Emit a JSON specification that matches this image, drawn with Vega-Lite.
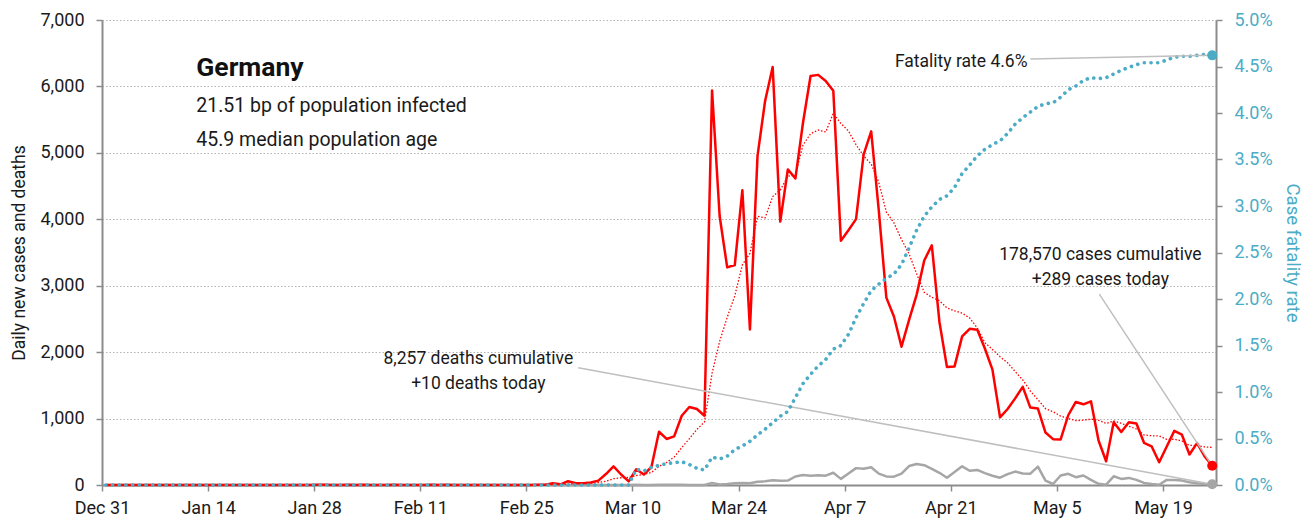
{
  "$schema": "https://vega.github.io/schema/vega-lite/v6.json",
  "width": 1114,
  "height": 465,
  "autosize": {"type": "none"},
  "padding": {"left": 102, "top": 20, "right": 99, "bottom": 40},
  "background": "white",
  "config": {
    "font": "Roboto",
    "view": {"stroke": null},
    "axis": {"labelFont": "Roboto", "titleFont": "Roboto"},
    "text": {"font": "Roboto"}
  },
  "datasets": {
    "daily": [
      {"date":"2019-12-31","cases":0,"ma7":0,"deaths":0,"cfr":0},
      {"date":"2020-01-01","cases":0,"ma7":0,"deaths":0,"cfr":0},
      {"date":"2020-01-02","cases":0,"ma7":0,"deaths":0,"cfr":0},
      {"date":"2020-01-03","cases":0,"ma7":0,"deaths":0,"cfr":0},
      {"date":"2020-01-04","cases":0,"ma7":0,"deaths":0,"cfr":0},
      {"date":"2020-01-05","cases":0,"ma7":0,"deaths":0,"cfr":0},
      {"date":"2020-01-06","cases":0,"ma7":0,"deaths":0,"cfr":0},
      {"date":"2020-01-07","cases":0,"ma7":0,"deaths":0,"cfr":0},
      {"date":"2020-01-08","cases":0,"ma7":0,"deaths":0,"cfr":0},
      {"date":"2020-01-09","cases":0,"ma7":0,"deaths":0,"cfr":0},
      {"date":"2020-01-10","cases":0,"ma7":0,"deaths":0,"cfr":0},
      {"date":"2020-01-11","cases":0,"ma7":0,"deaths":0,"cfr":0},
      {"date":"2020-01-12","cases":0,"ma7":0,"deaths":0,"cfr":0},
      {"date":"2020-01-13","cases":0,"ma7":0,"deaths":0,"cfr":0},
      {"date":"2020-01-14","cases":0,"ma7":0,"deaths":0,"cfr":0},
      {"date":"2020-01-15","cases":0,"ma7":0,"deaths":0,"cfr":0},
      {"date":"2020-01-16","cases":0,"ma7":0,"deaths":0,"cfr":0},
      {"date":"2020-01-17","cases":0,"ma7":0,"deaths":0,"cfr":0},
      {"date":"2020-01-18","cases":0,"ma7":0,"deaths":0,"cfr":0},
      {"date":"2020-01-19","cases":0,"ma7":0,"deaths":0,"cfr":0},
      {"date":"2020-01-20","cases":0,"ma7":0,"deaths":0,"cfr":0},
      {"date":"2020-01-21","cases":0,"ma7":0,"deaths":0,"cfr":0},
      {"date":"2020-01-22","cases":0,"ma7":0,"deaths":0,"cfr":0},
      {"date":"2020-01-23","cases":0,"ma7":0,"deaths":0,"cfr":0},
      {"date":"2020-01-24","cases":0,"ma7":0,"deaths":0,"cfr":0},
      {"date":"2020-01-25","cases":0,"ma7":0,"deaths":0,"cfr":0},
      {"date":"2020-01-26","cases":0,"ma7":0,"deaths":0,"cfr":0},
      {"date":"2020-01-27","cases":0,"ma7":0,"deaths":0,"cfr":0},
      {"date":"2020-01-28","cases":2,"ma7":0.3,"deaths":0,"cfr":0},
      {"date":"2020-01-29","cases":2,"ma7":0.6,"deaths":0,"cfr":0},
      {"date":"2020-01-30","cases":0,"ma7":0.6,"deaths":0,"cfr":0},
      {"date":"2020-01-31","cases":1,"ma7":0.7,"deaths":0,"cfr":0},
      {"date":"2020-02-01","cases":2,"ma7":1.0,"deaths":0,"cfr":0},
      {"date":"2020-02-02","cases":0,"ma7":1.0,"deaths":0,"cfr":0},
      {"date":"2020-02-03","cases":2,"ma7":1.3,"deaths":0,"cfr":0},
      {"date":"2020-02-04","cases":1,"ma7":1.1,"deaths":0,"cfr":0},
      {"date":"2020-02-05","cases":0,"ma7":0.9,"deaths":0,"cfr":0},
      {"date":"2020-02-06","cases":0,"ma7":0.9,"deaths":0,"cfr":0},
      {"date":"2020-02-07","cases":2,"ma7":1.0,"deaths":0,"cfr":0},
      {"date":"2020-02-08","cases":0,"ma7":0.7,"deaths":0,"cfr":0},
      {"date":"2020-02-09","cases":0,"ma7":0.7,"deaths":0,"cfr":0},
      {"date":"2020-02-10","cases":0,"ma7":0.4,"deaths":0,"cfr":0},
      {"date":"2020-02-11","cases":0,"ma7":0.3,"deaths":0,"cfr":0},
      {"date":"2020-02-12","cases":2,"ma7":0.6,"deaths":0,"cfr":0},
      {"date":"2020-02-13","cases":0,"ma7":0.6,"deaths":0,"cfr":0},
      {"date":"2020-02-14","cases":2,"ma7":0.6,"deaths":0,"cfr":0},
      {"date":"2020-02-15","cases":0,"ma7":0.6,"deaths":0,"cfr":0},
      {"date":"2020-02-16","cases":0,"ma7":0.6,"deaths":0,"cfr":0},
      {"date":"2020-02-17","cases":0,"ma7":0.6,"deaths":0,"cfr":0},
      {"date":"2020-02-18","cases":0,"ma7":0.6,"deaths":0,"cfr":0},
      {"date":"2020-02-19","cases":0,"ma7":0.3,"deaths":0,"cfr":0},
      {"date":"2020-02-20","cases":0,"ma7":0.3,"deaths":0,"cfr":0},
      {"date":"2020-02-21","cases":0,"ma7":0,"deaths":0,"cfr":0},
      {"date":"2020-02-22","cases":0,"ma7":0,"deaths":0,"cfr":0},
      {"date":"2020-02-23","cases":0,"ma7":0,"deaths":0,"cfr":0},
      {"date":"2020-02-24","cases":0,"ma7":0,"deaths":0,"cfr":0},
      {"date":"2020-02-25","cases":0,"ma7":0,"deaths":0,"cfr":0},
      {"date":"2020-02-26","cases":2,"ma7":0.3,"deaths":0,"cfr":0},
      {"date":"2020-02-27","cases":5,"ma7":1.0,"deaths":0,"cfr":0},
      {"date":"2020-02-28","cases":27,"ma7":4.9,"deaths":0,"cfr":0},
      {"date":"2020-02-29","cases":10,"ma7":6.3,"deaths":0,"cfr":0},
      {"date":"2020-03-01","cases":57,"ma7":14.4,"deaths":0,"cfr":0},
      {"date":"2020-03-02","cases":28,"ma7":18.4,"deaths":0,"cfr":0},
      {"date":"2020-03-03","cases":28,"ma7":22.4,"deaths":0,"cfr":0},
      {"date":"2020-03-04","cases":39,"ma7":27.7,"deaths":0,"cfr":0},
      {"date":"2020-03-05","cases":66,"ma7":36.4,"deaths":0,"cfr":0},
      {"date":"2020-03-06","cases":165,"ma7":56.1,"deaths":0,"cfr":0},
      {"date":"2020-03-07","cases":280,"ma7":94.7,"deaths":0,"cfr":0},
      {"date":"2020-03-08","cases":158,"ma7":109.1,"deaths":0,"cfr":0},
      {"date":"2020-03-09","cases":55,"ma7":113,"deaths":0,"cfr":0},
      {"date":"2020-03-10","cases":237,"ma7":142.9,"deaths":2,"cfr":0.0017},
      {"date":"2020-03-11","cases":157,"ma7":159.7,"deaths":0,"cfr":0.0015},
      {"date":"2020-03-12","cases":271,"ma7":189,"deaths":1,"cfr":0.0019},
      {"date":"2020-03-13","cases":802,"ma7":280,"deaths":2,"cfr":0.0021},
      {"date":"2020-03-14","cases":693,"ma7":339,"deaths":2,"cfr":0.0023},
      {"date":"2020-03-15","cases":733,"ma7":421.1,"deaths":2,"cfr":0.0024},
      {"date":"2020-03-16","cases":1043,"ma7":562.3,"deaths":3,"cfr":0.0025},
      {"date":"2020-03-17","cases":1174,"ma7":696.1,"deaths":1,"cfr":0.0022},
      {"date":"2020-03-18","cases":1144,"ma7":837.1,"deaths":0,"cfr":0.0018},
      {"date":"2020-03-19","cases":1042,"ma7":947.3,"deaths":0,"cfr":0.0016},
      {"date":"2020-03-20","cases":5940,"ma7":1681.3,"deaths":29,"cfr":0.0030},
      {"date":"2020-03-21","cases":4049,"ma7":2160.7,"deaths":9,"cfr":0.0028},
      {"date":"2020-03-22","cases":3276,"ma7":2524,"deaths":16,"cfr":0.0031},
      {"date":"2020-03-23","cases":3311,"ma7":2848,"deaths":27,"cfr":0.0038},
      {"date":"2020-03-24","cases":4438,"ma7":3314.3,"deaths":29,"cfr":0.0042},
      {"date":"2020-03-25","cases":2342,"ma7":3485.4,"deaths":26,"cfr":0.0047},
      {"date":"2020-03-26","cases":4954,"ma7":4044.3,"deaths":49,"cfr":0.0054},
      {"date":"2020-03-27","cases":5780,"ma7":4021.4,"deaths":55,"cfr":0.0060},
      {"date":"2020-03-28","cases":6294,"ma7":4342.1,"deaths":72,"cfr":0.0067},
      {"date":"2020-03-29","cases":3965,"ma7":4440.6,"deaths":64,"cfr":0.0074},
      {"date":"2020-03-30","cases":4751,"ma7":4646.3,"deaths":66,"cfr":0.0079},
      {"date":"2020-03-31","cases":4615,"ma7":4671.6,"deaths":128,"cfr":0.0094},
      {"date":"2020-04-01","cases":5453,"ma7":5116,"deaths":149,"cfr":0.0109},
      {"date":"2020-04-02","cases":6156,"ma7":5287.7,"deaths":140,"cfr":0.0119},
      {"date":"2020-04-03","cases":6174,"ma7":5344,"deaths":145,"cfr":0.0128},
      {"date":"2020-04-04","cases":6082,"ma7":5313.7,"deaths":141,"cfr":0.0135},
      {"date":"2020-04-05","cases":5936,"ma7":5595.3,"deaths":184,"cfr":0.0146},
      {"date":"2020-04-06","cases":3677,"ma7":5441.9,"deaths":92,"cfr":0.0150},
      {"date":"2020-04-07","cases":3834,"ma7":5330.3,"deaths":173,"cfr":0.0162},
      {"date":"2020-04-08","cases":4003,"ma7":5123.1,"deaths":254,"cfr":0.0180},
      {"date":"2020-04-09","cases":4974,"ma7":4954.3,"deaths":246,"cfr":0.0195},
      {"date":"2020-04-10","cases":5323,"ma7":4832.7,"deaths":266,"cfr":0.0209},
      {"date":"2020-04-11","cases":4133,"ma7":4554.3,"deaths":171,"cfr":0.0216},
      {"date":"2020-04-12","cases":2821,"ma7":4109.3,"deaths":129,"cfr":0.0222},
      {"date":"2020-04-13","cases":2537,"ma7":3946.4,"deaths":126,"cfr":0.0227},
      {"date":"2020-04-14","cases":2082,"ma7":3696.1,"deaths":170,"cfr":0.0237},
      {"date":"2020-04-15","cases":2486,"ma7":3479.4,"deaths":285,"cfr":0.0255},
      {"date":"2020-04-16","cases":2866,"ma7":3178.3,"deaths":315,"cfr":0.0274},
      {"date":"2020-04-17","cases":3380,"ma7":2900.7,"deaths":299,"cfr":0.0289},
      {"date":"2020-04-18","cases":3609,"ma7":2825.9,"deaths":242,"cfr":0.0299},
      {"date":"2020-04-19","cases":2458,"ma7":2774,"deaths":184,"cfr":0.0307},
      {"date":"2020-04-20","cases":1775,"ma7":2665.1,"deaths":110,"cfr":0.0311},
      {"date":"2020-04-21","cases":1785,"ma7":2622.7,"deaths":194,"cfr":0.0320},
      {"date":"2020-04-22","cases":2237,"ma7":2587.1,"deaths":281,"cfr":0.0335},
      {"date":"2020-04-23","cases":2352,"ma7":2513.7,"deaths":215,"cfr":0.0344},
      {"date":"2020-04-24","cases":2337,"ma7":2364.7,"deaths":227,"cfr":0.0354},
      {"date":"2020-04-25","cases":2055,"ma7":2142.7,"deaths":179,"cfr":0.0361},
      {"date":"2020-04-26","cases":1737,"ma7":2039.7,"deaths":140,"cfr":0.0366},
      {"date":"2020-04-27","cases":1018,"ma7":1931.6,"deaths":110,"cfr":0.0370},
      {"date":"2020-04-28","cases":1144,"ma7":1840,"deaths":163,"cfr":0.0378},
      {"date":"2020-04-29","cases":1304,"ma7":1706.7,"deaths":202,"cfr":0.0388},
      {"date":"2020-04-30","cases":1478,"ma7":1581.9,"deaths":173,"cfr":0.0395},
      {"date":"2020-05-01","cases":1165,"ma7":1414.4,"deaths":170,"cfr":0.0401},
      {"date":"2020-05-02","cases":1150,"ma7":1285.1,"deaths":278,"cfr":0.0407},
      {"date":"2020-05-03","cases":790,"ma7":1149.9,"deaths":66,"cfr":0.0410},
      {"date":"2020-05-04","cases":690,"ma7":1103,"deaths":15,"cfr":0.0411},
      {"date":"2020-05-05","cases":685,"ma7":1037.4,"deaths":143,"cfr":0.0417},
      {"date":"2020-05-06","cases":1050,"ma7":1001.1,"deaths":168,"cfr":0.0425},
      {"date":"2020-05-07","cases":1250,"ma7":968.6,"deaths":117,"cfr":0.0429},
      {"date":"2020-05-08","cases":1215,"ma7":975.7,"deaths":143,"cfr":0.0435},
      {"date":"2020-05-09","cases":1260,"ma7":991.4,"deaths":77,"cfr":0.0438},
      {"date":"2020-05-10","cases":670,"ma7":974.3,"deaths":18,"cfr":0.0437},
      {"date":"2020-05-11","cases":357,"ma7":926.7,"deaths":5,"cfr":0.0438},
      {"date":"2020-05-12","cases":945,"ma7":963.9,"deaths":131,"cfr":0.0442},
      {"date":"2020-05-13","cases":798,"ma7":927.9,"deaths":92,"cfr":0.0446},
      {"date":"2020-05-14","cases":945,"ma7":884.3,"deaths":107,"cfr":0.0449},
      {"date":"2020-05-15","cases":925,"ma7":842.9,"deaths":77,"cfr":0.0452},
      {"date":"2020-05-16","cases":635,"ma7":753.6,"deaths":31,"cfr":0.0454},
      {"date":"2020-05-17","cases":583,"ma7":741.1,"deaths":15,"cfr":0.0454},
      {"date":"2020-05-18","cases":342,"ma7":739,"deaths":4,"cfr":0.0454},
      {"date":"2020-05-19","cases":580,"ma7":686.9,"deaths":77,"cfr":0.0457},
      {"date":"2020-05-20","cases":815,"ma7":689.3,"deaths":77,"cfr":0.0460},
      {"date":"2020-05-21","cases":757,"ma7":662.4,"deaths":66,"cfr":0.0461},
      {"date":"2020-05-22","cases":460,"ma7":596,"deaths":41,"cfr":0.0461},
      {"date":"2020-05-23","cases":630,"ma7":595.3,"deaths":26,"cfr":0.0462},
      {"date":"2020-05-24","cases":431,"ma7":573.6,"deaths":15,"cfr":0.0463},
      {"date":"2020-05-25","cases":289,"ma7":566,"deaths":10,"cfr":0.0462}
    ],
    "last": [{"date":"2020-05-25","cases":289,"deaths":10,"cfr":0.0462}],
    "leftLeaders": [
      {"note":"cases","date":"2020-05-10T14:24:00Z","value":2873},
      {"note":"cases","date":"2020-05-25T12:00:00Z","value":289},
      {"note":"deaths","date":"2020-03-02T20:24:00Z","value":1765},
      {"note":"deaths","date":"2020-05-25T12:00:00Z","value":10}
    ],
    "rightLeaders": [
      {"note":"fatality","date":"2020-05-01T12:00:00Z","value":0.0458},
      {"note":"fatality","date":"2020-05-25T12:00:00Z","value":0.0462}
    ],
    "headline": [{"date":"2020-01-12T10:30:00Z","value":6150,"label":"Germany"}],
    "subtitle": [
      {"date":"2020-01-12T10:30:00Z","value":5622,"label":"21.51 bp of population infected"},
      {"date":"2020-01-12T10:30:00Z","value":5110,"label":"45.9 median population age"}
    ],
    "notes": [
      {"date":"2020-05-10T17:45:00Z","value":3390,"label":"178,570 cases cumulative"},
      {"date":"2020-05-10T17:45:00Z","value":3013,"label":"+289 cases today"},
      {"date":"2020-02-18T15:50:00Z","value":1816,"label":"8,257 deaths cumulative"},
      {"date":"2020-02-18T15:50:00Z","value":1444,"label":"+10 deaths today"}
    ],
    "fatalityNote": [{"date":"2020-05-01T03:00:00Z","value":6286,"label":"Fatality rate 4.6%"}]
  },
  "layer": [
    {
      "layer": [
        {
          "data": {"name": "daily"},
          "mark": {"type": "line", "color": "#a6a6a6", "strokeWidth": 2.5, "strokeJoin": "round"},
          "encoding": {
            "x": {"field": "date", "type": "temporal", "timeUnit": "utcyearmonthdate", "bandPosition": 0.5, "title": null,
                  "scale": {"type": "utc", "domain": [{"year": 2019, "month": 12, "date": 31, "utc": true}, {"year": 2020, "month": 5, "date": 26, "utc": true}]},
                  "axis": {"disable": false, "values": [
                    {"year": 2019, "month": 12, "date": 31, "utc": true},
                    {"year": 2020, "month": 1, "date": 14, "utc": true},
                    {"year": 2020, "month": 1, "date": 28, "utc": true},
                    {"year": 2020, "month": 2, "date": 11, "utc": true},
                    {"year": 2020, "month": 2, "date": 25, "utc": true},
                    {"year": 2020, "month": 3, "date": 10, "utc": true},
                    {"year": 2020, "month": 3, "date": 24, "utc": true},
                    {"year": 2020, "month": 4, "date": 7, "utc": true},
                    {"year": 2020, "month": 4, "date": 21, "utc": true},
                    {"year": 2020, "month": 5, "date": 5, "utc": true},
                    {"year": 2020, "month": 5, "date": 19, "utc": true}],
                    "labelExpr": "utcFormat(datum.value, '%b %-d')", "labelFlush": false, "labelOverlap": false, "grid": false,
                    "domainColor": "#8c8c8c", "domainWidth": 2, "tickColor": "#8c8c8c", "tickWidth": 1.5, "tickSize": 6,
                    "labelFontSize": 18, "labelColor": "#1a1a1a", "labelPadding": 8, "title": null}},
            "y": {"field": "deaths", "type": "quantitative", "scale": {"domain": [0, 7000], "nice": false},
                  "axis": {"disable": false, "values": [0, 1000, 2000, 3000, 4000, 5000, 6000, 7000], "labelExpr": "format(datum.value, ',')", "grid": true,
                    "gridColor": "#b3b3b3", "gridDash": [1.5, 2], "gridWidth": 1,
                    "domainColor": "#8c8c8c", "domainWidth": 2, "tickColor": "#8c8c8c", "tickWidth": 1.5, "tickSize": 6,
                    "labelFontSize": 18, "labelColor": "#1a1a1a", "labelPadding": 12,
                    "title": "Daily new cases and deaths", "titleFontSize": 17.5, "titleFontWeight": "normal", "titleColor": "#1a1a1a", "titlePadding": 11}}
          }
        },
        {
          "data": {"name": "daily"},
          "mark": {"type": "line", "color": "#ff0000", "strokeWidth": 1.3, "strokeDash": [1.5, 1.8]},
          "encoding": {
            "x": {"field": "date", "type": "temporal", "timeUnit": "utcyearmonthdate", "bandPosition": 0.5, "title": null,
                  "scale": {"type": "utc", "domain": [{"year": 2019, "month": 12, "date": 31, "utc": true}, {"year": 2020, "month": 5, "date": 26, "utc": true}]}},
            "y": {"field": "ma7", "type": "quantitative", "scale": {"domain": [0, 7000], "nice": false}}
          }
        },
        {
          "data": {"name": "daily"},
          "mark": {"type": "line", "color": "#ff0000", "strokeWidth": 2.5, "strokeJoin": "round"},
          "encoding": {
            "x": {"field": "date", "type": "temporal", "timeUnit": "utcyearmonthdate", "bandPosition": 0.5, "title": null,
                  "scale": {"type": "utc", "domain": [{"year": 2019, "month": 12, "date": 31, "utc": true}, {"year": 2020, "month": 5, "date": 26, "utc": true}]}},
            "y": {"field": "cases", "type": "quantitative", "scale": {"domain": [0, 7000], "nice": false}}
          }
        },
        {
          "data": {"name": "leftLeaders"},
          "mark": {"type": "line", "color": "#bfbfbf", "strokeWidth": 1.5},
          "encoding": {
            "x": {"field": "date", "type": "temporal", "title": null,
                  "scale": {"type": "utc", "domain": [{"year": 2019, "month": 12, "date": 31, "utc": true}, {"year": 2020, "month": 5, "date": 26, "utc": true}]}},
            "y": {"field": "value", "type": "quantitative", "scale": {"domain": [0, 7000], "nice": false}},
            "detail": {"field": "note"}
          }
        },
        {
          "data": {"name": "last"},
          "mark": {"type": "point", "filled": true, "opacity": 1, "size": 100, "color": "#a6a6a6"},
          "encoding": {
            "x": {"field": "date", "type": "temporal", "timeUnit": "utcyearmonthdate", "bandPosition": 0.5, "title": null,
                  "scale": {"type": "utc", "domain": [{"year": 2019, "month": 12, "date": 31, "utc": true}, {"year": 2020, "month": 5, "date": 26, "utc": true}]}},
            "y": {"field": "deaths", "type": "quantitative", "scale": {"domain": [0, 7000], "nice": false}}
          }
        },
        {
          "data": {"name": "last"},
          "mark": {"type": "point", "filled": true, "opacity": 1, "size": 100, "color": "#ff0000"},
          "encoding": {
            "x": {"field": "date", "type": "temporal", "timeUnit": "utcyearmonthdate", "bandPosition": 0.5, "title": null,
                  "scale": {"type": "utc", "domain": [{"year": 2019, "month": 12, "date": 31, "utc": true}, {"year": 2020, "month": 5, "date": 26, "utc": true}]}},
            "y": {"field": "cases", "type": "quantitative", "scale": {"domain": [0, 7000], "nice": false}}
          }
        },
        {
          "data": {"name": "headline"},
          "mark": {"type": "text", "align": "left", "baseline": "alphabetic", "fontSize": 26.5, "fontWeight": "bold", "color": "#111111"},
          "encoding": {
            "x": {"field": "date", "type": "temporal", "title": null,
                  "scale": {"type": "utc", "domain": [{"year": 2019, "month": 12, "date": 31, "utc": true}, {"year": 2020, "month": 5, "date": 26, "utc": true}]}},
            "y": {"field": "value", "type": "quantitative", "scale": {"domain": [0, 7000], "nice": false}},
            "text": {"field": "label"}
          }
        },
        {
          "data": {"name": "subtitle"},
          "mark": {"type": "text", "align": "left", "baseline": "alphabetic", "fontSize": 19.5, "color": "#1a1a1a"},
          "encoding": {
            "x": {"field": "date", "type": "temporal", "title": null,
                  "scale": {"type": "utc", "domain": [{"year": 2019, "month": 12, "date": 31, "utc": true}, {"year": 2020, "month": 5, "date": 26, "utc": true}]}},
            "y": {"field": "value", "type": "quantitative", "scale": {"domain": [0, 7000], "nice": false}},
            "text": {"field": "label"}
          }
        },
        {
          "data": {"name": "notes"},
          "mark": {"type": "text", "align": "center", "baseline": "alphabetic", "fontSize": 17.5, "color": "#1a1a1a"},
          "encoding": {
            "x": {"field": "date", "type": "temporal", "title": null,
                  "scale": {"type": "utc", "domain": [{"year": 2019, "month": 12, "date": 31, "utc": true}, {"year": 2020, "month": 5, "date": 26, "utc": true}]}},
            "y": {"field": "value", "type": "quantitative", "scale": {"domain": [0, 7000], "nice": false}},
            "text": {"field": "label"}
          }
        },
        {
          "data": {"name": "fatalityNote"},
          "mark": {"type": "text", "align": "right", "baseline": "alphabetic", "fontSize": 17.5, "color": "#1a1a1a"},
          "encoding": {
            "x": {"field": "date", "type": "temporal", "title": null,
                  "scale": {"type": "utc", "domain": [{"year": 2019, "month": 12, "date": 31, "utc": true}, {"year": 2020, "month": 5, "date": 26, "utc": true}]}},
            "y": {"field": "value", "type": "quantitative", "scale": {"domain": [0, 7000], "nice": false}},
            "text": {"field": "label"}
          }
        }
      ]
    },
    {
      "layer": [
        {
          "data": {"name": "daily"},
          "mark": {"type": "line", "color": "#4bacc6", "strokeWidth": 3.6, "strokeDash": [0.1, 6.6], "strokeCap": "round"},
          "encoding": {
            "x": {"field": "date", "type": "temporal", "timeUnit": "utcyearmonthdate", "bandPosition": 0.5, "title": null,
                  "scale": {"type": "utc", "domain": [{"year": 2019, "month": 12, "date": 31, "utc": true}, {"year": 2020, "month": 5, "date": 26, "utc": true}]}},
            "y": {"field": "cfr", "type": "quantitative", "scale": {"domain": [0, 0.05], "nice": false},
                  "axis": {"disable": false, "orient": "right", "values": [0, 0.005, 0.01, 0.015, 0.02, 0.025, 0.03, 0.035, 0.04, 0.045, 0.05], "labelExpr": "format(datum.value, '.1%')", "grid": false,
                    "domainColor": "#8c8c8c", "domainWidth": 2, "tickColor": "#8c8c8c", "tickWidth": 1.5, "tickSize": 6,
                    "labelFontSize": 18, "labelColor": "#4bacc6", "labelPadding": 12,
                    "title": "Case fatality rate", "titleFontSize": 18.5, "titleFontWeight": "normal", "titleColor": "#4bacc6", "titleAngle": 90, "titlePadding": 10}}
          }
        },
        {
          "data": {"name": "rightLeaders"},
          "mark": {"type": "line", "color": "#bfbfbf", "strokeWidth": 1.5},
          "encoding": {
            "x": {"field": "date", "type": "temporal", "title": null,
                  "scale": {"type": "utc", "domain": [{"year": 2019, "month": 12, "date": 31, "utc": true}, {"year": 2020, "month": 5, "date": 26, "utc": true}]}},
            "y": {"field": "value", "type": "quantitative", "scale": {"domain": [0, 0.05], "nice": false}},
            "detail": {"field": "note"}
          }
        },
        {
          "data": {"name": "last"},
          "mark": {"type": "point", "filled": true, "opacity": 1, "size": 100, "color": "#4bacc6"},
          "encoding": {
            "x": {"field": "date", "type": "temporal", "timeUnit": "utcyearmonthdate", "bandPosition": 0.5, "title": null,
                  "scale": {"type": "utc", "domain": [{"year": 2019, "month": 12, "date": 31, "utc": true}, {"year": 2020, "month": 5, "date": 26, "utc": true}]}},
            "y": {"field": "cfr", "type": "quantitative", "scale": {"domain": [0, 0.05], "nice": false}}
          }
        }
      ]
    }
  ],
  "resolve": {"scale": {"y": "independent"}}
}
